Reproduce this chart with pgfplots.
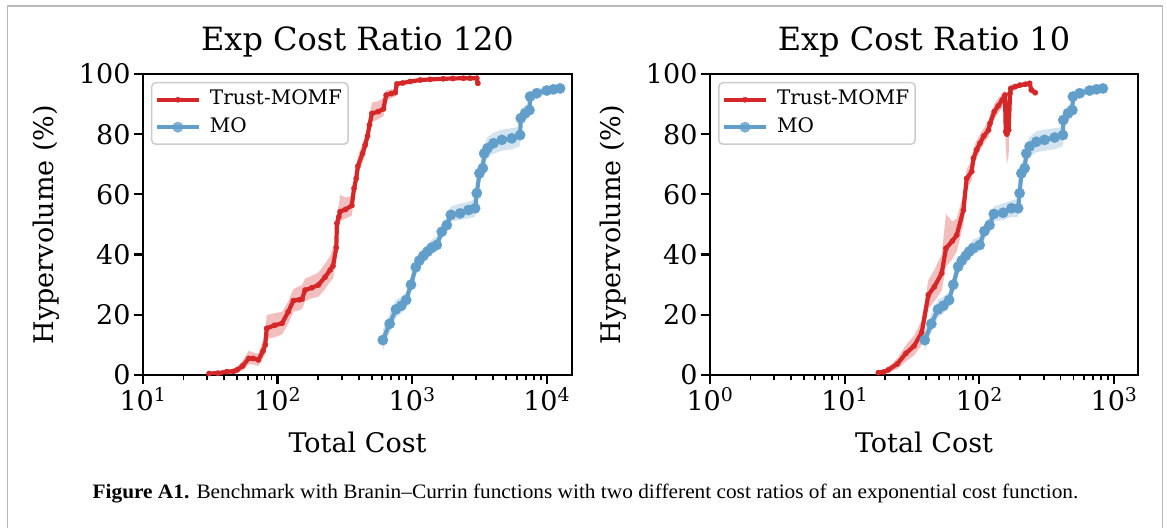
\documentclass[border=0pt]{standalone}
\usepackage{pgfplots}
\pgfplotsset{compat=1.18}
\usepackage{pgfplotstable}
\usepgfplotslibrary{fillbetween}
\usepackage{fontspec}
\setmainfont{DejaVu Serif}
\newfontfamily\capfont{Liberation Serif}[FakeStretch=1.04]
\definecolor{tred}{RGB}{214,39,40}
\definecolor{tblue}{RGB}{98,158,202}

% Exp Cost Ratio 120 -- Trust-MOMF
\pgfplotstableread{
x y lo hi
31 0.5 0.2 0.9
36 0.6 0.3 1.0
42 1.1 0.5 1.7
47 1.2 0.5 2.0
50 1.7 0.8 2.8
55 3.0 1.5 4.8
61 5.5 3.5 8.0
66 5.5 3.5 7.5
72 5.0 3.0 7.0
78 8.0 5.5 11.5
81 10.0 7.0 14.0
83 15.5 12.0 19.9
95 16.5 12.5 20.5
108 17.2 13.5 21.0
120 21.0 17.0 24.5
131 24.7 21.0 28.5
145 25.0 21.5 29.5
152 25.2 22.0 30.0
160 28.2 24.5 32.0
180 29.0 25.5 33.0
201 29.9 26.0 34.0
225 32.5 28.5 37.0
246 34.9 31.0 39.5
258 36.2 32.0 42.5
273 42.3 38.0 46.0
276 50.4 47.0 54.0
285 52.5 49.0 56.5
292 54.3 51.0 59.8
320 55.0 52.0 59.0
356 56.3 53.0 59.5
370 62.0 59.0 65.0
384 65.3 62.5 68.0
395 69.4 66.5 72.5
428 73.6 70.5 77.0
448 76.4 73.5 79.5
466 79.4 76.5 82.5
482 83.1 80.0 86.0
502 86.9 84.0 90.5
560 87.5 85.0 91.0
612 88.4 86.0 92.0
641 93.0 91.0 94.5
700 93.5 92.0 95.0
748 93.8 92.5 95.0
770 96.7 96.0 97.5
850 97.0 96.3 97.7
966 97.5 97.0 98.0
1150 98.0 97.6 98.4
1361 98.2 97.8 98.6
1700 98.4 98.0 98.8
2000 98.5 98.1 98.9
2405 98.6 98.2 99.0
2700 98.6 98.2 99.0
3020 98.6 98.2 99.0
3076 96.9 96.0 97.8
}\tabRA

% Exp Cost Ratio 120 -- MO
\pgfplotstableread{
x y lo hi
605 11.6 8.0 15.0
680 17.0 14.0 20.5
757 21.8 19.0 25.0
830 23.0 20.5 26.0
902 24.9 22.5 27.5
980 30.0 27.5 33.0
1064 35.8 33.5 38.5
1130 38.0 35.5 40.5
1213 39.6 37.5 42.0
1300 41.0 39.0 43.5
1400 42.3 40.0 45.0
1524 43.2 41.0 46.0
1660 47.6 45.0 50.0
1809 49.8 47.5 52.5
1937 53.2 51.0 56.0
2271 53.7 51.5 57.0
2618 54.8 52.0 57.5
2936 55.4 52.5 58.5
3020 60.4 57.5 63.5
3162 67.0 64.0 70.0
3350 68.7 66.0 72.0
3427 73.6 70.5 76.5
3626 75.3 72.0 79.0
4018 77.0 73.5 80.5
4634 78.1 74.5 81.5
5495 78.6 75.0 82.0
6339 79.7 76.0 82.5
6412 85.3 83.0 88.5
6905 86.9 84.5 89.5
7436 88.0 86.0 90.5
7516 92.5 91.0 94.0
8430 93.6 92.0 95.0
10000 94.5 93.5 95.8
11200 94.9 94.0 96.0
12560 95.2 94.3 96.3
}\tabBA

% Exp Cost Ratio 10 -- Trust-MOMF
\pgfplotstableread{
x y lo hi
17.8 0.8 0.3 1.3
19.5 1.0 0.4 1.8
21.1 1.7 0.8 2.8
24.6 3.7 2.0 5.5
28.5 7.2 4.5 10.0
32.7 9.6 6.5 13.0
37.3 14.1 10.0 18.0
41.8 26.6 22.0 31.5
46.3 29.3 24.5 35.0
52.5 33.8 28.0 40.0
56.5 42.1 36.0 53.5
63.0 44.5 38.5 51.0
67.9 46.5 41.0 52.0
76.1 54.8 50.0 60.0
80.5 65.3 62.0 68.5
87.7 67.6 64.5 71.0
90.3 72.0 69.0 75.5
95.5 74.8 72.0 78.0
101 77.0 74.5 80.0
108 79.4 77.0 82.0
117 81.4 79.0 84.5
120 83.6 81.0 86.5
129 87.5 85.0 90.0
138 89.4 87.0 92.0
148 91.4 89.0 93.5
155 93.0 91.5 94.5
157 80.8 76.0 86.0
160 80.0 70.0 88.0
165 81.4 73.0 90.0
169 93.6 92.5 95.0
171 95.2 94.0 96.5
185 95.8 95.0 96.6
200 96.3 95.6 97.0
220 96.6 96.0 97.3
236 96.9 96.2 97.5
243 94.7 93.5 96.0
260 93.8 92.8 95.0
}\tabRB

% Exp Cost Ratio 10 -- MO
\pgfplotstableread{
x y lo hi
39.3 11.6 8.0 15.0
44.0 17.0 14.0 20.5
49.3 21.8 19.0 25.0
54.0 23.0 20.5 26.0
59.6 24.9 22.5 27.5
64.0 30.0 27.5 33.0
69.5 36.0 33.5 38.5
74.0 38.0 35.5 40.5
79.3 39.6 37.5 42.0
84.0 41.0 39.0 43.5
89.8 42.1 40.0 45.0
100.5 43.2 41.0 46.0
109 47.8 45.0 50.0
119 49.8 47.5 52.5
128 53.5 51.0 56.0
150 53.9 51.5 57.0
173 55.4 52.5 58.0
194 55.4 52.5 58.5
199 60.4 57.5 63.5
205 67.0 64.0 70.0
217 68.7 66.0 72.0
223 73.6 70.5 76.5
236 75.9 72.5 79.0
265 77.5 74.0 81.0
305 78.1 74.5 81.5
362 78.9 75.0 82.0
417 79.7 76.0 82.5
420 84.7 82.5 88.0
455 86.9 84.5 89.5
490 88.0 86.0 90.5
495 92.5 91.0 94.0
555 93.6 92.0 95.0
658 94.5 93.5 95.8
740 94.9 94.0 96.0
826 95.2 94.3 96.3
}\tabBB

\pgfplotsset{
  common/.style={
    scale only axis, height=301pt, anchor=south west,
    ymin=0, ymax=100,
    ytick={0,20,40,60,80,100}, yticklabels={0,20,40,60,80,100},
    tick align=outside, xtick pos=bottom, ytick pos=left,
    major tick length=9pt, minor tick length=5.5pt,
    tick style={black, line width=2.2pt},
    minor tick style={line width=1.8pt},
    axis line style={line width=2.8pt},
    tick label style={font=\fontsize{27}{32}\selectfont},
    label style={font=\fontsize{27}{32}\selectfont},
    title style={font=\fontsize{32}{38}\selectfont, at={(axis description cs:0.5,1.058)}, anchor=base},
    xlabel style={at={(axis description cs:0.5,-0.259)}, anchor=base},
    ylabel style={at={(axis description cs:-0.208,0.5)}, anchor=base},
    xlabel={Total Cost}, ylabel={Hypervolume (\%)},
    legend cell align=left,
    legend style={anchor=north west, draw=black!20, line width=1.5pt, rounded corners=4pt,
      fill=white, fill opacity=0.8, text opacity=1,
      font=\fontsize{20}{24}\selectfont,
      inner xsep=3pt, inner ysep=4pt, row sep=1.5pt,
      nodes={inner sep=3pt, text height=15pt, text depth=5pt},
      /tikz/every odd column/.append style={column sep=6pt}},
    legend image code/.code={\draw[mark repeat=2,mark phase=2,##1] plot coordinates {(0pt,0pt) (21pt,0pt) (42pt,0pt)};},
  },
  redline/.style={color=tred, line width=4.2pt, line join=round, mark=*, mark size=2.7pt, mark options={line width=0.3pt}},
  blueline/.style={color=tblue, line width=4.2pt, line join=round, mark=*, mark size=5.2pt, mark options={line width=0.3pt}},
  redband/.style={fill=tred, fill opacity=0.3, draw=none},
  blueband/.style={fill=tblue, fill opacity=0.28, draw=none},
}

\begin{document}
\begin{tikzpicture}[x=1pt,y=1pt]
\path (0,0) rectangle (1167,528);
\draw[black!28, line width=1.4pt] (7.5,0) -- (7.5,522) -- (1162.5,522) -- (1162.5,0);

\begin{axis}[xmode=log, common, at={(143pt,153pt)}, width=429pt,
  xmin=10, xmax=15400,
  xtick={10,100,1000,10000},
  xticklabels={10\textsuperscript{1},10\textsuperscript{2},10\textsuperscript{3},10\textsuperscript{4}},
  minor xtick={20,30,40,50,60,70,80,90,200,300,400,500,600,700,800,900,2000,3000,4000,5000,6000,7000,8000,9000},
  title={Exp Cost Ratio 120},
  legend style={at={(axis description cs:0.0186,0.9735)}},
]
\addplot[name path=ra, draw=none, forget plot] table[x=x,y=hi] {\tabRA};
\addplot[name path=rb, draw=none, forget plot] table[x=x,y=lo] {\tabRA};
\addplot[redband, forget plot] fill between[of=ra and rb];
\addplot[redline] table[x=x,y=y] {\tabRA};
\addlegendentry{Trust-MOMF}
\addplot[name path=ba, draw=none, forget plot] table[x=x,y=hi] {\tabBA};
\addplot[name path=bb, draw=none, forget plot] table[x=x,y=lo] {\tabBA};
\addplot[blueband, forget plot] fill between[of=ba and bb];
\addplot[blueline] table[x=x,y=y] {\tabBA};
\addlegendentry{MO}
\end{axis}

\begin{axis}[xmode=log, common, at={(710pt,153pt)}, width=428pt,
  xmin=1, xmax=1506,
  xtick={1,10,100,1000},
  xticklabels={10\textsuperscript{0},10\textsuperscript{1},10\textsuperscript{2},10\textsuperscript{3}},
  minor xtick={2,3,4,5,6,7,8,9,20,30,40,50,60,70,80,90,200,300,400,500,600,700,800,900},
  title={Exp Cost Ratio 10},
  legend style={at={(axis description cs:0.019,0.9735)}},
]
\addplot[name path=ra, draw=none, forget plot] table[x=x,y=hi] {\tabRB};
\addplot[name path=rb, draw=none, forget plot] table[x=x,y=lo] {\tabRB};
\addplot[redband, forget plot] fill between[of=ra and rb];
\addplot[redline] table[x=x,y=y] {\tabRB};
\addlegendentry{Trust-MOMF}
\addplot[name path=ba, draw=none, forget plot] table[x=x,y=hi] {\tabBB};
\addplot[name path=bb, draw=none, forget plot] table[x=x,y=lo] {\tabBB};
\addplot[blueband, forget plot] fill between[of=ba and bb];
\addplot[blueline] table[x=x,y=y] {\tabBB};
\addlegendentry{MO}
\end{axis}

\node[font=\capfont\fontsize{20.5}{24}\selectfont, anchor=base] at (585.5,29.7)
  {\textbf{Figure A1.} Benchmark with Branin–Currin functions with two different cost ratios of an exponential cost function.};
\end{tikzpicture}
\end{document}
